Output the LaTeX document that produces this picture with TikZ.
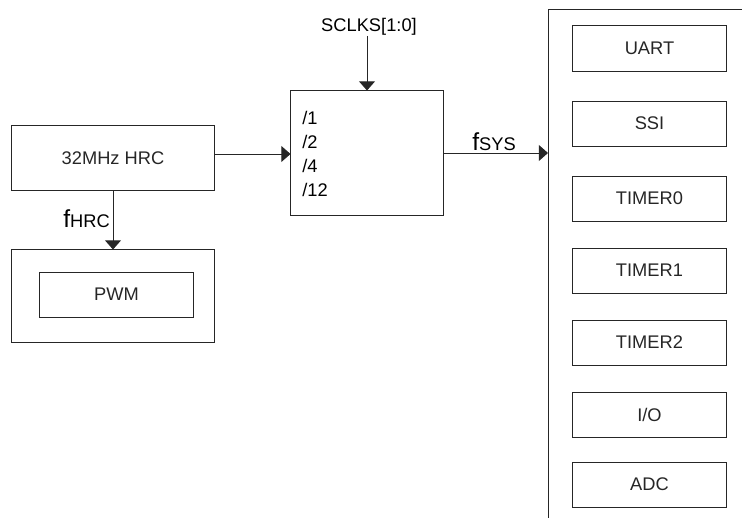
\documentclass[tikz,border=0pt]{standalone}
\usepackage{fontspec}
\setmainfont{Liberation Sans}
\usetikzlibrary{arrows.meta,positioning}
\tikzset{
    % Colors
    line color/.style={black!85},
    %
    % Blocks
    block/.style={draw,line color,line width=0.7pt,inner sep=0pt},
    wide block/.style={block,minimum width=5.05cm},
    small block/.style={block,minimum width=3.825cm,minimum height=1.125cm},
    %
    % Arrows
    arrow tip/.tip={Triangle[length=0.23cm,width=0.4cm]},
    arr/.style={-{arrow tip},line color,line width=0.7pt}
}
\newcommand{\bigf}{{\fontsize{17.5}{19}\selectfont f}}
\tikzstyle{every node}=[font=\fontsize{13}{15}\selectfont]

\begin{document}
\begin{tikzpicture}[x=0.025cm,y=-0.025cm]
        \useasboundingbox (0,0) rectangle (742,518);
        % clock source and PWM
        \node[wide block,minimum height=1.6cm] (hrc) at (113,158) {32MHz HRC};
        \node[wide block,minimum height=2.3cm] (pwmbox) at (113,296) {};
        \node[small block] (pwm) at (116.5,294.5) {PWM};
        \draw[arr] (hrc.south) -- (pwmbox.north);
        \node[anchor=base east,inner sep=0pt] (fhrc) at (110,227) {\bigf HRC};
        % divider
        \node[block,minimum width=3.8cm,minimum height=3.1cm] (div) at (367,153) {};
        \node[anchor=west,align=left,inner sep=0pt,font=\fontsize{13}{17}\selectfont] (ratios) at (302,154) {/1\\/2\\/4\\/12};
        \node[inner sep=0pt] (sclks) at (369,27) {SCLKS[1:0]};
        \draw[arr] (sclks.south -| div.north) -- (div.north);
        \draw[arr] ([yshift=0.1cm]hrc.east) -- ([yshift=0.1cm]hrc.east -| div.west);
        % peripherals
        \coordinate (bus) at (548,9);
        \draw[line color,line width=0.7pt] (bus |- 0,518) -- (bus) -- (742,9);
        \draw[arr] (div.east) -- (div.east -| bus);
        \node[anchor=base west,inner sep=0pt] (fsys) at (472,151) {\bigf SYS};
        \foreach \y/\name [count=\i] in {48.5/UART,123.5/SSI,198.5/TIMER0,270.5/TIMER1,342.5/TIMER2,414.5/{I/O},484.5/ADC}
            \node[small block] (per\i) at (649.5,\y) {\name};
    \end{tikzpicture}
\end{document}
